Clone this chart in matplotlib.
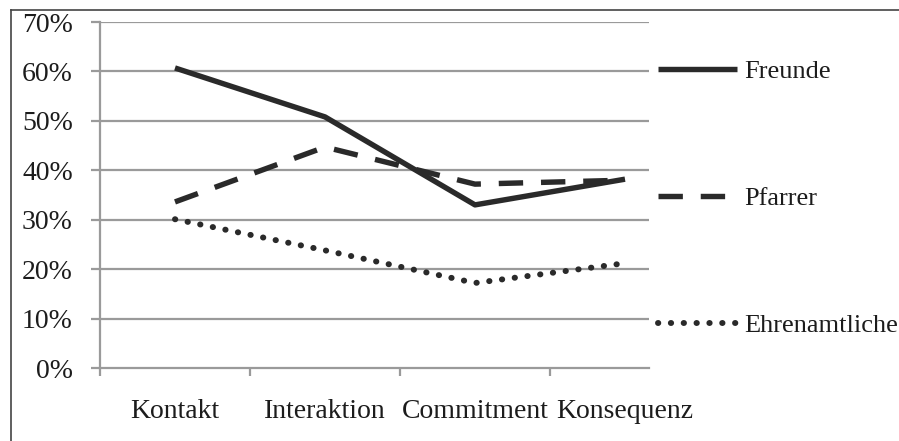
import numpy as np
import matplotlib.pyplot as plt
from matplotlib.ticker import FixedLocator

categories = ['Kontakt', 'Interaktion', 'Commitment', 'Konsequenz']
freunde = [60.7, 50.8, 33.0, 38.2]
pfarrer = [33.6, 44.7, 37.2, 38.0]
ehrenamtliche = [30.1, 23.8, 17.2, 21.2]
yticks = [0, 10, 20, 30, 40, 50, 60, 70]

plt.rcParams['font.family'] = ['Liberation Serif', 'DejaVu Serif']

W, H = 899, 441
fig = plt.figure(figsize=(W / 100, H / 100), dpi=100)
fig.patch.set_facecolor('white')

ax = fig.add_axes([100 / W, 1 - 368 / H, 549 / W, 346 / H])
ax.set_facecolor('white')

x = np.arange(len(categories))
dark = '#2a2a2a'
grid = '#9a9a9a'
txt = '#1c1c1c'
fs = 20

ax.plot(x, freunde, color=dark, lw=3.9, solid_capstyle='butt', label='Freunde', zorder=3)
ax.plot(x, pfarrer, color=dark, lw=3.9, dashes=(4.5, 3.3), label='Pfarrer', zorder=3)
ax.plot(x, ehrenamtliche, color=dark, lw=4.3, dashes=(0.05, 2.1),
        dash_capstyle='round', label='Ehrenamtliche', zorder=3)

ax.set_xlim(-0.5, 3.16)
ax.set_ylim(0, 70)

# y axis
ax.set_yticks(yticks)
ax.set_yticklabels([f'{v}%' for v in yticks])
for v in yticks[1:]:
    ax.axhline(v, color=grid, lw=1.6, zorder=1)

# x axis: labels at centres, marks at category borders
ax.set_xticks(x)
ax.set_xticklabels(categories)
ax.xaxis.set_minor_locator(FixedLocator([-0.5, 0.5, 1.5, 2.5]))
ax.tick_params(axis='x', which='major', length=0, pad=22, labelsize=fs, colors=txt)
ax.tick_params(axis='x', which='minor', length=5.5, width=1.6, color=grid)
ax.tick_params(axis='y', length=6.5, width=1.6, color=grid, pad=13, labelsize=fs, labelcolor=txt)

for s in ['top', 'right']:
    ax.spines[s].set_visible(False)
for s in ['left', 'bottom']:
    ax.spines[s].set_color(grid)
    ax.spines[s].set_linewidth(1.6)

leg = ax.legend(loc='upper left', bbox_to_anchor=(658 / W, 1 - 60 / H),
                bbox_transform=fig.transFigure, frameon=False, fontsize=19,
                handlelength=3.0, handletextpad=0.26, labelspacing=3.92,
                borderpad=0, borderaxespad=0)
for t in leg.get_texts():
    t.set_color(txt)

# scanned page frame
fig.add_artist(plt.Line2D([11 / W, 11 / W], [0, 1 - 10 / H], transform=fig.transFigure,
                          color='#444444', lw=1.2))
fig.add_artist(plt.Line2D([11 / W, 1], [1 - 10 / H, 1 - 10 / H], transform=fig.transFigure,
                          color='#444444', lw=1.2))

fig.savefig('out.png', dpi=100)
